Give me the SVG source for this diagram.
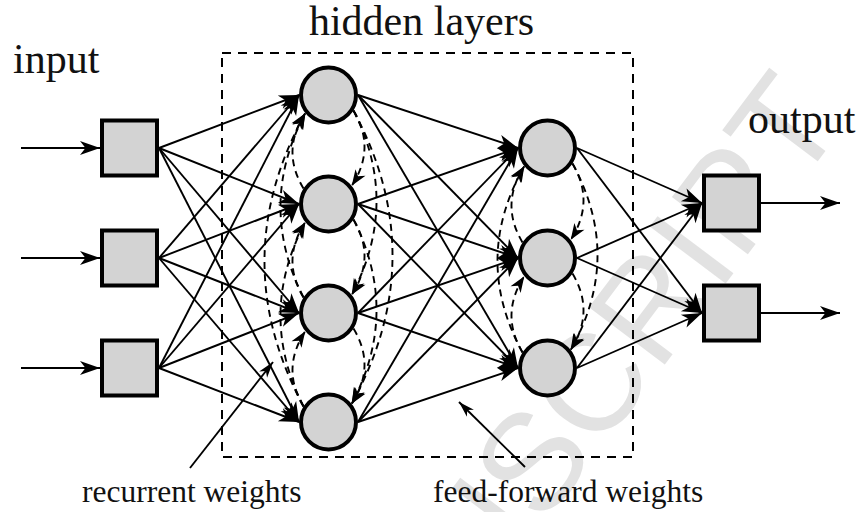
<svg xmlns="http://www.w3.org/2000/svg" width="860" height="512" viewBox="0 0 860 512">
  <style>
    .lbl { font-family: "Liberation Serif", "Times New Roman", serif; fill: #111; }
    .big { font-size: 42px; }
    .small { font-size: 31.5px; }
    .node { fill: #d3d3d3; stroke: #000; stroke-width: 4; }
    .ff { fill: none; stroke: #000; stroke-width: 1.9; marker-end: url(#arrow); }
    .rec { fill: none; stroke: #000; stroke-width: 1.9; stroke-dasharray: 7 5; marker-end: url(#arrowS); }
    .note { fill: none; stroke: #000; stroke-width: 1.9; marker-end: url(#arrowT); }
    .frame { fill: none; stroke: #000; stroke-width: 2; stroke-dasharray: 9 7; }
    .mark { font-family: "Liberation Sans", Arial, sans-serif; font-size: 138px; fill: #e2e2e2; }
  </style>
  <defs>
    <marker id="arrow" viewBox="-21 -7.5 22 15" refX="0" refY="0" markerWidth="22" markerHeight="15" markerUnits="userSpaceOnUse" orient="auto">
      <path d="M0,0 L-20,-7 L-14.5,0 L-20,7 Z" fill="#000"/>
    </marker>
    <marker id="arrowS" viewBox="-17 -6.5 18 13" refX="0" refY="0" markerWidth="18" markerHeight="13" markerUnits="userSpaceOnUse" orient="auto">
      <path d="M0,0 L-16,-6 L-11.5,0 L-16,6 Z" fill="#000"/>
    </marker>
    <marker id="arrowT" viewBox="-17 -6 18 12" refX="0" refY="0" markerWidth="18" markerHeight="12" markerUnits="userSpaceOnUse" orient="auto">
      <path d="M0,0 L-16,-5 L-11.5,0 L-16,5 Z" fill="#000"/>
    </marker>
  </defs>

  <!-- watermark -->
  <text class="mark" transform="translate(298,851) rotate(-53)">MANUSCRIPT</text>

  <!-- hidden layer frame -->
  <rect id="hidden-frame" class="frame" x="222" y="53" width="411" height="404"/>

  <g id="connectors">
    <!-- external input / output arrows -->
    <line class="ff" x1="21" y1="148" x2="100" y2="148"/>
    <line class="ff" x1="21" y1="258" x2="100" y2="258"/>
    <line class="ff" x1="21" y1="368" x2="100" y2="368"/>
    <line class="ff" x1="761" y1="203" x2="840" y2="203"/>
    <line class="ff" x1="761" y1="313" x2="840" y2="313"/>

    <!-- input -> hidden 1 -->
    <line class="ff" x1="159" y1="148" x2="299" y2="95"/>
    <line class="ff" x1="159" y1="148" x2="299" y2="204"/>
    <line class="ff" x1="159" y1="148" x2="299" y2="313"/>
    <line class="ff" x1="159" y1="148" x2="299" y2="422"/>
    <line class="ff" x1="159" y1="258" x2="299" y2="95"/>
    <line class="ff" x1="159" y1="258" x2="299" y2="204"/>
    <line class="ff" x1="159" y1="258" x2="299" y2="313"/>
    <line class="ff" x1="159" y1="258" x2="299" y2="422"/>
    <line class="ff" x1="159" y1="368" x2="299" y2="95"/>
    <line class="ff" x1="159" y1="368" x2="299" y2="204"/>
    <line class="ff" x1="159" y1="368" x2="299" y2="313"/>
    <line class="ff" x1="159" y1="368" x2="299" y2="422"/>

    <!-- hidden 1 -> hidden 2 -->
    <line class="ff" x1="358" y1="95" x2="518" y2="148"/>
    <line class="ff" x1="358" y1="95" x2="518" y2="258"/>
    <line class="ff" x1="358" y1="95" x2="518" y2="368"/>
    <line class="ff" x1="358" y1="204" x2="518" y2="148"/>
    <line class="ff" x1="358" y1="204" x2="518" y2="258"/>
    <line class="ff" x1="358" y1="204" x2="518" y2="368"/>
    <line class="ff" x1="358" y1="313" x2="518" y2="148"/>
    <line class="ff" x1="358" y1="313" x2="518" y2="258"/>
    <line class="ff" x1="358" y1="313" x2="518" y2="368"/>
    <line class="ff" x1="358" y1="422" x2="518" y2="148"/>
    <line class="ff" x1="358" y1="422" x2="518" y2="258"/>
    <line class="ff" x1="358" y1="422" x2="518" y2="368"/>

    <!-- hidden 2 -> output -->
    <line class="ff" x1="577" y1="148" x2="702" y2="203"/>
    <line class="ff" x1="577" y1="148" x2="702" y2="313"/>
    <line class="ff" x1="577" y1="258" x2="702" y2="203"/>
    <line class="ff" x1="577" y1="258" x2="702" y2="313"/>
    <line class="ff" x1="577" y1="368" x2="702" y2="203"/>
    <line class="ff" x1="577" y1="368" x2="702" y2="313"/>

    <!-- recurrent weights, hidden 1: downward on the right, upward on the left -->
    <path class="rec" d="M353.5,110.6 Q376.4,148.2 351.7,185.8"/>
    <path class="rec" d="M353.5,219.6 Q376.4,257.2 351.7,294.8"/>
    <path class="rec" d="M353.5,328.6 Q376.4,366.2 351.7,403.8"/>
    <path class="rec" d="M353.5,110.6 Q400.4,202.7 351.7,294.8"/>
    <path class="rec" d="M353.5,219.6 Q400.4,311.7 351.7,403.8"/>
    <path class="rec" d="M353.5,110.6 Q432.4,257.2 351.7,403.8"/>
    <path class="rec" d="M303.5,188.4 Q280.6,150.8 305.3,113.2"/>
    <path class="rec" d="M303.5,297.4 Q280.6,259.8 305.3,222.2"/>
    <path class="rec" d="M303.5,406.4 Q280.6,368.8 305.3,331.2"/>
    <path class="rec" d="M303.5,297.4 Q256.6,205.3 305.3,113.2"/>
    <path class="rec" d="M303.5,406.4 Q256.6,314.3 305.3,222.2"/>
    <path class="rec" d="M303.5,406.4 Q224.6,259.8 305.3,113.2"/>

    <!-- recurrent weights, hidden 2 -->
    <path class="rec" d="M572.5,163.6 Q595.4,201.7 570.7,239.8"/>
    <path class="rec" d="M572.5,273.6 Q595.4,311.7 570.7,349.8"/>
    <path class="rec" d="M572.5,163.6 Q623.4,256.7 570.7,349.8"/>
    <path class="rec" d="M522.5,242.4 Q499.6,204.3 524.3,166.2"/>
    <path class="rec" d="M522.5,352.4 Q499.6,314.3 524.3,276.2"/>
    <path class="rec" d="M522.5,352.4 Q471.6,259.3 524.3,166.2"/>

    <!-- label pointers -->
    <line class="note" x1="190" y1="468" x2="273" y2="362"/>
    <line class="note" x1="525" y1="467" x2="459" y2="402"/>
  </g>

  <g id="in1"><rect class="node" x="102" y="120.5" width="55" height="55"/></g>
  <g id="in2"><rect class="node" x="102" y="230.5" width="55" height="55"/></g>
  <g id="in3"><rect class="node" x="102" y="340.5" width="55" height="55"/></g>

  <g id="h1a"><circle class="node" cx="328.5" cy="95" r="27.5"/></g>
  <g id="h1b"><circle class="node" cx="328.5" cy="204" r="27.5"/></g>
  <g id="h1c"><circle class="node" cx="328.5" cy="313" r="27.5"/></g>
  <g id="h1d"><circle class="node" cx="328.5" cy="422" r="27.5"/></g>

  <g id="h2a"><circle class="node" cx="547.5" cy="148" r="27.5"/></g>
  <g id="h2b"><circle class="node" cx="547.5" cy="258" r="27.5"/></g>
  <g id="h2c"><circle class="node" cx="547.5" cy="368" r="27.5"/></g>

  <g id="out1"><rect class="node" x="704" y="175.5" width="55" height="55"/></g>
  <g id="out2"><rect class="node" x="704" y="285.5" width="55" height="55"/></g>

  <g id="labels">
    <text class="lbl big" x="13" y="73">input</text>
    <text class="lbl big" x="421.5" y="35" text-anchor="middle">hidden layers</text>
    <text class="lbl big" x="748" y="133">output</text>
    <text class="lbl small" x="82" y="502">recurrent weights</text>
    <text class="lbl small" x="433" y="502">feed-forward weights</text>
  </g>
</svg>
